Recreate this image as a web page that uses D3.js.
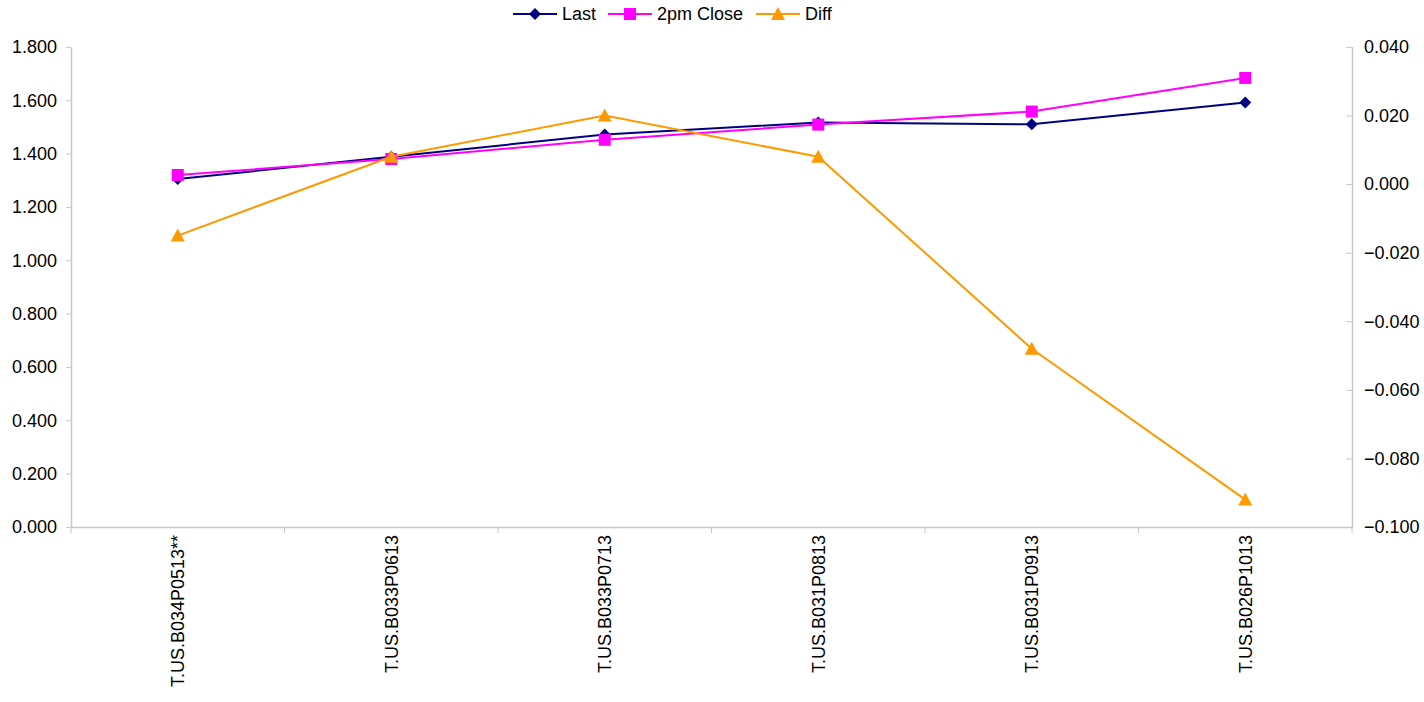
<!DOCTYPE html>
<html><head><meta charset="utf-8">
<script src="https://cdn.jsdelivr.net/npm/d3@7"></script>
<style>body{margin:0;background:#fff;} text{font-family:"Liberation Sans",Arial,sans-serif;}</style>
</head><body>
<svg id="chart" width="1424" height="702"></svg>
<script>
const categories = ["T.US.B034P0513**","T.US.B033P0613","T.US.B033P0713","T.US.B031P0813","T.US.B031P0913","T.US.B026P1013"];
const lastValues = [1.305, 1.388, 1.472, 1.517, 1.510, 1.592];
const closeValues = [1.320, 1.380, 1.452, 1.509, 1.558, 1.684];
const diffValues = [-0.015, 0.008, 0.020, 0.008, -0.048, -0.092];
const leftTicks = [0, 0.2, 0.4, 0.6, 0.8, 1.0, 1.2, 1.4, 1.6, 1.8];
const rightTicks = [-0.1, -0.08, -0.06, -0.04, -0.02, 0, 0.02, 0.04];

const FS = "18px";
const svg = d3.select("#chart");
const L = 71, R = 1352, T = 47, B = 527;
const x = d3.scaleBand().domain(categories).range([L, R]);
const yL = d3.scaleLinear().domain([0, 1.8]).range([B, T]);
const yR = d3.scaleLinear().domain([-0.1, 0.04]).range([B, T]);
const axisColor = "#c8c8c8";

const gl = svg.append("g").attr("transform", `translate(${L},0)`)
  .call(d3.axisLeft(yL).tickValues(leftTicks).tickFormat(d3.format(".3f")).tickSize(5).tickSizeOuter(0));
const gr = svg.append("g").attr("transform", `translate(${R},0)`)
  .call(d3.axisRight(yR).tickValues(rightTicks).tickFormat(d3.format(".3f")).tickSize(0).tickSizeOuter(0));
gr.selectAll(".tick line").attr("x1", -6).attr("x2", 1);
const gx = svg.append("g").attr("transform", `translate(0,${B})`)
  .call(d3.axisBottom(x).tickSize(0).tickSizeOuter(0));
[gl, gr, gx].forEach(g => {
  g.select(".domain").attr("stroke", axisColor).attr("stroke-width", 1.5);
  g.selectAll(".tick line").attr("stroke", axisColor);
  g.selectAll("text").attr("fill", "#000").style("font-size", FS).style("font-family", "Liberation Sans, Arial, sans-serif");
});
gl.selectAll("text").attr("x", -14);
gr.selectAll("text").attr("x", 12);
const bounds = categories.map(c => x(c)).concat([R]);
gx.selectAll(".btick").data(bounds).enter().append("line")
  .attr("x1", d => d).attr("x2", d => d).attr("y1", 0).attr("y2", 6)
  .attr("stroke", axisColor);
gx.selectAll(".tick text")
  .attr("transform", "rotate(-90)")
  .attr("x", -8).attr("y", 0).attr("dy", "0.35em")
  .style("text-anchor", "end");

const cx = c => x(c) + x.bandwidth() / 2;
const series = [
  {name: "Last", vals: lastValues, y: yL, color: "#000080", marker: "diamond"},
  {name: "2pm Close", vals: closeValues, y: yL, color: "#FF00FF", marker: "square"},
  {name: "Diff", vals: diffValues, y: yR, color: "#FF9900", marker: "triangle"}
];
const markerPath = {
  diamond: "M0,-6L6,0L0,6L-6,0Z",
  square: "M-6,-6H6V6H-6Z",
  triangle: "M0,-7L7,6H-7Z"
};

series.forEach(s => {
  const line = d3.line().x((d, i) => cx(categories[i])).y(d => s.y(d));
  svg.append("path").datum(s.vals).attr("d", line)
    .attr("fill", "none").attr("stroke", s.color).attr("stroke-width", 2);
  svg.selectAll(null).data(s.vals).enter().append("path")
    .attr("d", markerPath[s.marker])
    .attr("transform", (d, i) => `translate(${cx(categories[i])},${s.y(d)})`)
    .attr("fill", s.color);
});

const legendItems = [
  {name: "Last", x: 513, color: "#000080", marker: "diamond"},
  {name: "2pm Close", x: 608, color: "#FF00FF", marker: "square"},
  {name: "Diff", x: 756, color: "#FF9900", marker: "triangle"}
];
const lg = svg.append("g");
legendItems.forEach(it => {
  const ly = 14;
  lg.append("line").attr("x1", it.x).attr("x2", it.x + 44).attr("y1", ly).attr("y2", ly)
    .attr("stroke", it.color).attr("stroke-width", 2);
  lg.append("path").attr("d", markerPath[it.marker])
    .attr("transform", `translate(${it.x + 22},${ly})`).attr("fill", it.color);
  lg.append("text").attr("x", it.x + 49).attr("y", ly).attr("dy", "0.35em")
    .style("font-size", FS).text(it.name);
});
</script>
</body></html>
